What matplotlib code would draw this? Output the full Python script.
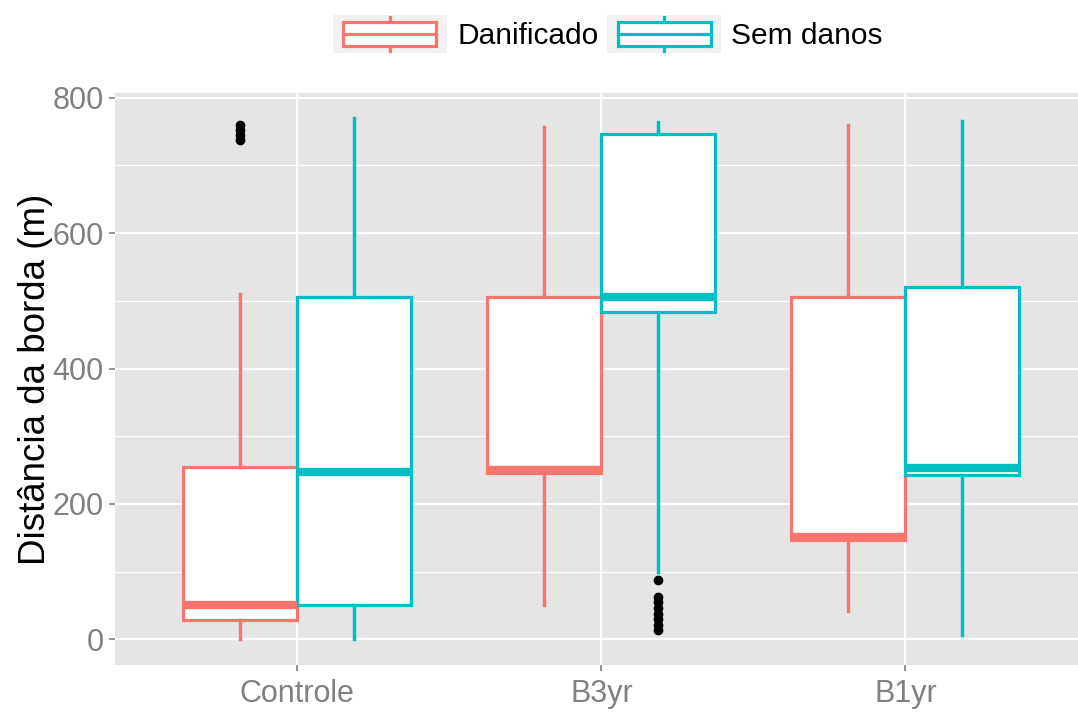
import matplotlib
matplotlib.use("Agg")
import matplotlib.pyplot as plt
from matplotlib.patches import Rectangle, Patch
from matplotlib.lines import Line2D
from matplotlib.legend_handler import HandlerBase

plt.rcParams["font.family"] = ["Liberation Sans", "DejaVu Sans"]

categories = ["Controle", "B3yr", "B1yr"]
groups = ["Danificado", "Sem danos"]
colors = {"Danificado": "#F8766D", "Sem danos": "#00BFC4"}

# five-number summaries, one value per category
whislo = {"Danificado": [0, 50, 42], "Sem danos": [0, 100, 7]}
q1 = {"Danificado": [28, 245, 146], "Sem danos": [50, 484, 242]}
med = {"Danificado": [50, 250, 151], "Sem danos": [247, 506, 253]}
q3 = {"Danificado": [255, 505, 505], "Sem danos": [505, 747, 521]}
whishi = {"Danificado": [510, 757, 760], "Sem danos": [770, 764, 766]}
fliers = {
    "Danificado": [[738, 745, 752, 760], [], []],
    "Sem danos": [[], [13, 21, 30, 38, 46, 55, 63, 87], []],
}

fig = plt.figure(figsize=(10.78, 7.13), dpi=100)
ax = fig.add_axes([115 / 1078, 48 / 713, 963 / 1078, 572 / 713])
ax.set_facecolor("#E5E5E5")

width = 0.375
for gi, g in enumerate(groups):
    offset = (gi - 0.5) * width
    stats = []
    for i in range(len(categories)):
        stats.append(dict(whislo=whislo[g][i], q1=q1[g][i], med=med[g][i],
                          q3=q3[g][i], whishi=whishi[g][i], fliers=fliers[g][i]))
    pos = [i + 1 + offset for i in range(len(categories))]
    ax.bxp(stats, positions=pos, widths=width, showcaps=False, patch_artist=True,
           boxprops=dict(facecolor="white", edgecolor=colors[g], linewidth=2.3),
           whiskerprops=dict(color=colors[g], linewidth=2.5),
           medianprops=dict(color=colors[g], linewidth=6, solid_capstyle="butt"),
           flierprops=dict(marker="o", markerfacecolor="black", markeredgecolor="black",
                           markersize=6),
           zorder=3)

ax.set_xlim(0.4, 0.4 + 963 / 304)
ax.set_ylim(-38, 807)
ax.set_xticks([1, 2, 3])
ax.set_xticklabels(categories)
ax.set_yticks([0, 200, 400, 600, 800])
ax.set_yticks([100, 300, 500, 700], minor=True)
ax.grid(which="major", color="white", linewidth=1.6, zorder=0)
ax.grid(which="minor", axis="y", color="white", linewidth=0.8, zorder=0)
ax.set_axisbelow(True)
for s in ax.spines.values():
    s.set_visible(False)
ax.tick_params(axis="both", which="major", labelsize=22, labelcolor="#808080",
               color="#808080", length=4, width=1.2)
ax.tick_params(axis="x", pad=6)
ax.tick_params(axis="y", pad=4)
ax.tick_params(which="minor", length=0)
ax.set_ylabel("Distância da borda (m)", fontsize=26.5, color="black")
ax.yaxis.set_label_coords(-0.064, 0.5)


class BoxKey(HandlerBase):
    def create_artists(self, legend, orig_handle, xdescent, ydescent, width, height,
                       fontsize, trans):
        c = orig_handle.get_edgecolor()
        x0, y0 = -xdescent, -ydescent
        bg = Rectangle((x0, y0), width, height, facecolor="#F2F2F2", edgecolor="none",
                       transform=trans)
        bx = x0 + width * 0.09
        bw = width * 0.82
        by = y0 + height * 0.2
        bh = height * 0.62
        box = Rectangle((bx, by), bw, bh, facecolor="white", edgecolor=c,
                        linewidth=2.3, transform=trans)
        mid = by + bh / 2
        ml = Line2D([bx, bx + bw], [mid, mid], color=c, linewidth=2.3, transform=trans)
        cx = x0 + width / 2
        w1 = Line2D([cx, cx], [y0 + height * 0.06, by], color=c, linewidth=2.3,
                    transform=trans)
        w2 = Line2D([cx, cx], [by + bh, y0 + height * 0.94], color=c, linewidth=2.3,
                    transform=trans)
        return [bg, box, ml, w1, w2]


handles = [Patch(edgecolor=colors[g], facecolor="white") for g in groups]
fig.legend(handles, groups, handler_map={Patch: BoxKey()}, loc="center",
           bbox_to_anchor=(608 / 1078, 1 - 34 / 713), ncol=2, frameon=False,
           fontsize=21.5, handlelength=3.8, handleheight=1.6, handletextpad=0.35,
           columnspacing=0.3, borderpad=0)

fig.savefig("out.png", dpi=100)
